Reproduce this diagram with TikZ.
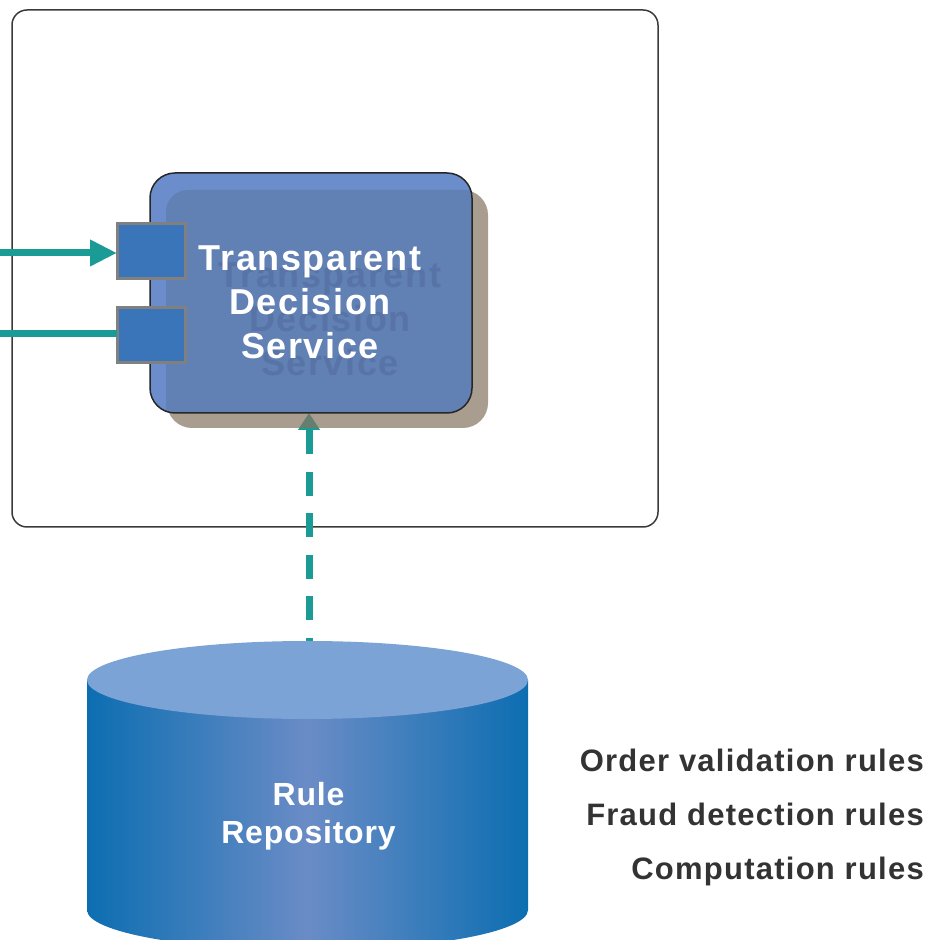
\documentclass[tikz,border=0pt]{standalone}
\usepackage{fontspec}
\setmainfont{Liberation Sans}
\newfontfamily\tdsfont{Liberation Sans}[LetterSpace=4.5]
\newfontfamily\repofont{Liberation Sans}[LetterSpace=2.5]
\newfontfamily\rulefont{Liberation Sans}[LetterSpace=4]
\usetikzlibrary{arrows.meta}
\definecolor{tdsteal}{RGB}{27,155,150}
\definecolor{portblue}{RGB}{58,116,185}
\definecolor{portgray}{RGB}{128,128,128}
\definecolor{bandblue}{RGB}{108,141,203}
\definecolor{innerblue}{RGB}{97,128,179}
\definecolor{shadowtan}{RGB}{131,116,96}
\definecolor{txtshadow}{RGB}{88,116,166}
\definecolor{cyltopc}{RGB}{123,163,214}
\definecolor{cyledge}{RGB}{12,110,177}
\definecolor{cylmid}{RGB}{106,140,198}
\definecolor{rulegray}{RGB}{51,51,51}
\definecolor{outerline}{RGB}{58,58,58}
\begin{document}
\begin{tikzpicture}[x=1pt,y=1pt,
  frame/.style={draw=outerline, line width=1.5pt, rounded corners=15pt, inner sep=0pt, outer sep=0pt},
  mainbox/.style={fill=bandblue, rounded corners=25pt, inner sep=0pt, outer sep=0pt, minimum width=322pt, minimum height=240pt},
  portbox/.style={fill=portblue, draw=portgray, line width=3pt, inner sep=0pt, outer sep=0pt, minimum width=68pt, minimum height=55pt},
  tealline/.style={draw=tdsteal, line width=7pt},
  tdslabel/.style={text=white, align=center, inner sep=0pt, font=\tdsfont\bfseries\fontsize{36}{44}\selectfont},
  tdsshadow/.style={tdslabel, text=txtshadow},
  repolabel/.style={text=white, align=center, inner sep=0pt, font=\repofont\bfseries\fontsize{32}{38}\selectfont},
  rulelabel/.style={text=rulegray, inner sep=0pt, anchor=base east, font=\rulefont\bfseries\fontsize{31}{34}\selectfont}
]
\useasboundingbox (0,0) rectangle (931,940);
% outer frame
\node[frame, minimum width=646pt, minimum height=517pt] (frame) at (335,671.5) {};
% dashed connector from repository to service
\coordinate (repotop) at (309,299);
\coordinate (tdsin) at (309,527);
\draw[tealline, dash pattern=on 24pt off 17.5pt, dash phase=21pt,
      -{Triangle[length=17pt,width=21pt]}] (repotop) -- (tdsin);
% shadow of service
\fill[shadowtan, opacity=0.7, rounded corners=25pt] (167,512) rectangle (488,750);
% service box
\node[mainbox] (tds) at (311,647) {};
\begin{scope}
  \clip[rounded corners=25pt] (tds.south west) rectangle (tds.north east);
  \fill[innerblue, rounded corners=22pt] (166,750) rectangle (520,480);
\end{scope}
\draw[draw=black!85, line width=1.5pt, rounded corners=25pt] (tds.south west) rectangle (tds.north east);
\node[tdsshadow] (tdsshade) at (330,621) {Transparent\\Decision\\Service};
\node[tdslabel] (tdstext) at (310,638) {Transparent\\Decision\\Service};
% ports
\node[portbox] (p1) at (151,688.5) {};
\node[portbox] (p2) at (151,604.5) {};
\coordinate (in1) at (0,687);
\coordinate (in2) at (0,606);
\draw[tealline, -{Triangle[length=27pt,width=25pt]}] (in1) -- (p1.west |- in1);
\draw[tealline] (p2.west |- in2) -- (in2);
% repository cylinder
\shade[left color=cyledge, right color=cyledge, middle color=cylmid]
  (87,260) -- (87,30) arc[start angle=180, end angle=360, x radius=220.5, y radius=40] -- (528,260) -- cycle;
\fill[cyltopc] (307.5,260) ellipse[x radius=220.5, y radius=39];
\node[repolabel] (repo) at (308.5,124) {Rule\\Repository};
% rule list
\node[rulelabel] (r1) at (924,168) {Order validation rules};
\node[rulelabel] (r2) at (924,114) {Fraud detection rules};
\node[rulelabel] (r3) at (924,60) {Computation rules};
\end{tikzpicture}
\end{document}
